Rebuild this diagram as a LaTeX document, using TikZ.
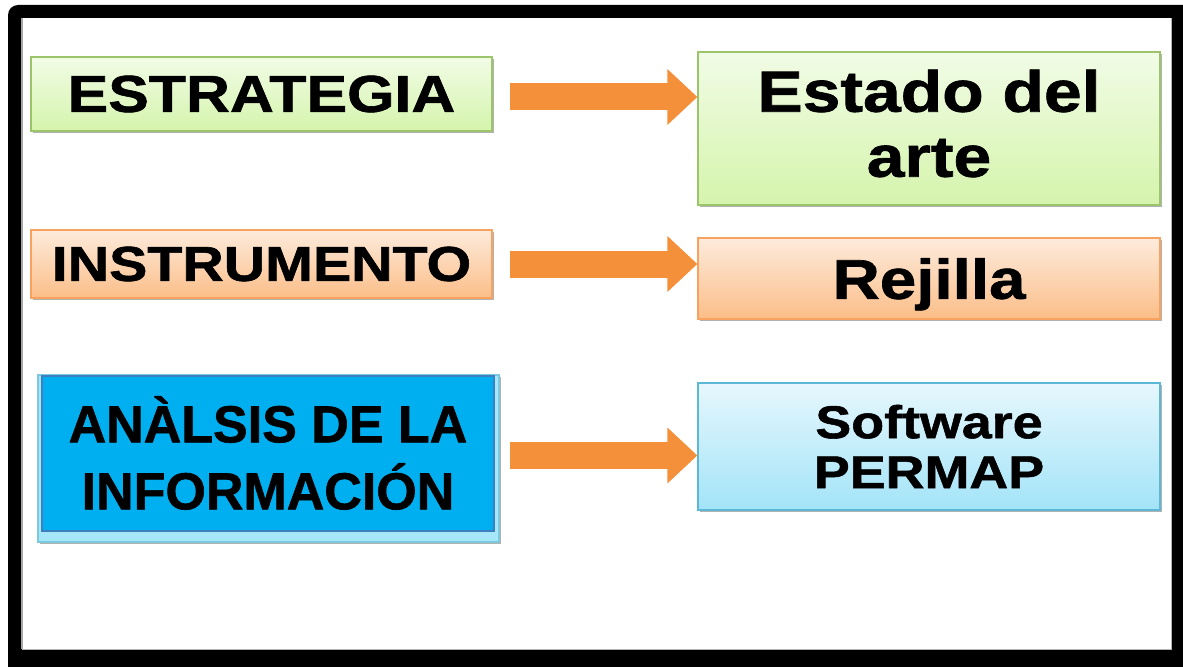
\documentclass[tikz,border=0pt]{standalone}
\usepackage{fontspec}
\newfontfamily\widefont{Liberation Sans}[FakeStretch=1.17,FakeBold=1.2]
\newfontfamily\plainfont{Liberation Sans}[FakeBold=1.2]
\usetikzlibrary{arrows.meta,shadows}
\definecolor{grTop}{HTML}{F1FCE6}
\definecolor{grBot}{HTML}{D5F4AC}
\definecolor{grLine}{HTML}{9CC56B}
\definecolor{orTop}{HTML}{FDEBDC}
\definecolor{orBot}{HTML}{FBBE88}
\definecolor{orLine}{HTML}{F7A25E}
\definecolor{cyTop}{HTML}{E6F7FD}
\definecolor{cyBot}{HTML}{A3E4F8}
\definecolor{cyLine}{HTML}{5CB8D4}
\definecolor{blFill}{HTML}{00AFEF}
\definecolor{blLine}{HTML}{3F7FBF}
\definecolor{blOuter}{HTML}{A6E8FA}
\definecolor{blOuterLine}{HTML}{7CC8DF}
\definecolor{arrowOr}{HTML}{F5903A}
\begin{document}
\begin{tikzpicture}[x=1bp,y=-1bp,
  shadowed/.style={drop shadow={shadow xshift=2bp,shadow yshift=-2bp,opacity=.3,fill=black}},
  boxbase/.style={line width=1.2bp,inner sep=0pt,shadowed},
  greenbox/.style={boxbase,draw=grLine,top color=grTop,bottom color=grBot},
  orangebox/.style={boxbase,draw=orLine,top color=orTop,bottom color=orBot},
  cyanbox/.style={boxbase,draw=cyLine,top color=cyTop,bottom color=cyBot},
  bluebox/.style={boxbase,draw=blOuterLine,fill=blOuter},
  blueinner/.style={line width=2bp,draw=blLine,fill=blFill,inner sep=0pt},
  blk/.style={line width=27bp,draw=arrowOr,-{Triangle[length=30bp,width=54bp]},shorten <=17bp},
  wtext/.style={font={\widefont\bfseries\fontsize{#1bp}{#1bp}\selectfont},align=center},
]
\useasboundingbox (0,0) rectangle (1183,667);
% frame
\fill[black,rounded corners=10bp] (8,5) rectangle (1210,690);
\fill[white] (22,18) rectangle (1171,649);
\draw[gray!70,line width=1.5bp] (22,18) -- (22,649);
\draw[gray!60,line width=0.8bp] (1171,18) -- (1171,649) -- (22,649);

% left column
\node[greenbox,minimum width=461bp,minimum height=74bp,wtext=52] (e1) at (261.5,94) {ESTRATEGIA};
\node[orangebox,minimum width=461bp,minimum height=68bp,wtext=49] (e2) at (261.5,264) {INSTRUMENTO};
\node[bluebox,minimum width=461bp,minimum height=167bp] (e3) at (268.5,458.5) {};
\node[blueinner,minimum width=452bp,minimum height=155bp,align=center,
  font={\plainfont\bfseries\fontsize{52bp}{67bp}\selectfont}] (e3i) at (268,453) {ANÀLSIS DE LA\\INFORMACIÓN};

% right column
\node[greenbox,minimum width=462bp,minimum height=153bp,
  label={[align=center,yshift=5bp,font={\widefont\bfseries\fontsize{58bp}{65bp}\selectfont}]center:Estado del\\arte}] (d1) at (929,128.5) {};
\node[orangebox,minimum width=462bp,minimum height=81bp,wtext=56,text depth=0pt] (d2) at (929,278.5) {Rejilla};
\node[cyanbox,minimum width=462bp,minimum height=127bp,align=center,font={\widefont\bfseries\fontsize{46bp}{50bp}\selectfont}] (d3) at (929,446.5) {Software\\PERMAP};

% connectors
\draw[blk] ([yshift=-3bp]e1.east) -- ([yshift=-3bp]e1.east -| d1.west);
\draw[blk] (e2.east) -- (e2.east -| d2.west);
\draw[blk,shorten <=10bp] ([yshift=3bp]e3.east) -- ([yshift=3bp]e3.east -| d3.west);
\end{tikzpicture}
\end{document}
